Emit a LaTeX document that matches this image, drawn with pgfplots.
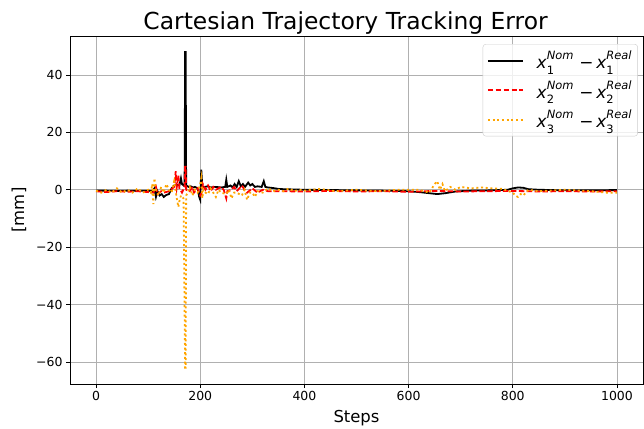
\documentclass[border=0pt]{standalone}
\usepackage{pgfplots}
\pgfplotsset{compat=1.18}
\usepackage{fontspec}
\setmainfont{DejaVu Sans}
\definecolor{mplorange}{HTML}{FFA500}
\newcommand{\supsub}[2]{\mbox{\rlap{\raisebox{-0.32em}{\fontsize{11.5}{12}\selectfont #2}}\raisebox{0.52em}{\fontsize{11.5}{12}\selectfont\itshape #1}}}
\newcommand{\xe}[1]{\textit{x}\supsub{Nom}{#1}\,\,−\,\textit{x}\supsub{Real}{#1}}
\begin{document}
\begin{tikzpicture}
\path[use as bounding box] (0,0) rectangle (644bp,429bp);
\begin{axis}[
  at={(70bp,45bp)}, anchor=south west,
  width=573bp, height=348bp, scale only axis,
  xmin=-50, xmax=1050, ymin=-67.7, ymax=53.6,
  xtick={0,200,400,600,800,1000},
  ytick={-60,-40,-20,0,20,40},
  yticklabels={−60,−40,−20,0,20,40},
  xticklabels={0,200,400,600,800,1000},
  tick align=outside, xtick pos=left, ytick pos=left,
  major tick length=4bp,
  tick style={black, line width=0.8bp},
  tick label style={font=\fontsize{12.5}{14}\selectfont},
  grid=major, grid style={color=black!31, line width=0.8bp},
  axis line style={line width=0.8bp},
  title={Cartesian Trajectory Tracking Error},
  title style={font=\fontsize{23.5}{27}\selectfont, at={(0.481,1)}, anchor=base, yshift=1bp},
  xlabel={Steps}, ylabel={[mm]},
  label style={font=\fontsize{16.5}{19}\selectfont},
  xlabel style={yshift=-3bp},
  ylabel style={yshift=3bp},
  legend cell align=left,
  legend style={at={(0.991,0.977)}, anchor=north east, draw=black!20, rounded corners=3bp,
    fill=white, fill opacity=0.8, text opacity=1, draw opacity=1, font=\fontsize{17}{19}\selectfont,
    row sep=6.5bp, column sep=11bp, inner xsep=4bp, inner ysep=5bp},
  legend image code/.code={\draw[line width=1.8bp, draw opacity=1, #1] (0bp,0bp) -- (35bp,0bp);},
  every axis plot/.append style={line width=1.8bp},
]
\addplot[black, solid] table {
0 -0.3
20 -0.3
40 -0.4
60 -0.3
80 -0.4
100 -0.3
108 -0.5
112 0.5
115 -2.5
118 -0.5
122 -2
126 -1.5
130 -2.5
135 -1.8
140 -1.5
145 0.5
150 1.5
155 1.8
160 1.5
163 4
165 2
168 1.5
170 2
171 48
172 48
173 1.5
178 1
182 1.2
186 0.8
190 1
195 0.5
198 -2.5
200 -3.5
202 7
204 1
208 1
215 1.2
220 0.8
230 1
240 0.8
248 1
250 3.5
252 1
258 1.5
262 0.8
266 2
270 1
274 3
278 1.2
282 2
286 1
292 2.5
296 1.5
300 2
305 1
310 1.2
318 1
322 3
325 1
330 0.8
340 0.6
350 0.3
360 0.2
380 0.1
400 0
450 -0.1
500 -0.2
550 -0.3
600 -0.5
620 -0.8
640 -1.2
655 -1.5
670 -1.2
690 -0.6
720 -0.3
760 -0.2
790 0
800 0.5
810 0.8
820 0.7
830 0.2
850 0
900 -0.2
950 -0.2
1000 -0.1
};
\addlegendentry{\xe{1}}
\addplot[red, dash pattern=on 5.5bp off 2.4bp] table {
0 -0.5
20 -0.8
40 -0.5
60 -0.7
80 -0.5
100 -0.8
110 -1
115 1
118 -1.5
125 -0.5
130 -1
140 -0.5
150 1
153 6.5
155 1
158 5
160 0.5
165 -1
170 1
171 8
172 8
173 0
180 -0.5
185 1
188 -1
195 0.5
200 -2
203 -1
205 2
210 0
215 1.5
220 -0.5
225 1
230 0
240 1
245 0
250 -3
252 -0.5
260 0
265 1
270 -0.5
280 1.5
285 0
290 -1
300 0.5
310 -1
320 0
330 -0.5
350 -0.5
400 -0.6
450 -0.4
500 -0.6
550 -0.5
600 -0.7
650 -0.4
700 -0.6
750 -0.5
800 -0.4
850 -0.6
900 -0.5
950 -0.6
1000 -0.5
};
\addlegendentry{\xe{2}}
\addplot[mplorange, dash pattern=on 2bp off 2.7bp] table {
0 -0.3
10 -1
20 0
30 -1
40 0.5
50 -1
60 0
70 -1
80 0.5
90 -1
100 0
105 -1
108 2
110 -5
112 4
115 0
120 -2
125 1
130 -1
135 2
140 0
145 -1
150 3
155 -3
158 -6
160 -4
163 -2
168 -3
171 -62
172 -62
173 -2
176 -1
180 1
185 -2
190 0
195 -1
200 2
202 4
204 -3
206 0
210 -1
215 -1.5
220 0.5
225 -1
230 -2.5
235 0
240 -1
250 -1.5
255 0
260 -3
265 -1
270 -1
280 -2
285 0
290 -3.5
295 -1
300 -1
305 -2.5
310 -0.5
320 -1
330 0.5
340 -0.5
350 0
360 -0.5
370 0.5
380 -0.5
390 0
400 -0.3
430 0.3
460 -0.5
500 0
540 -0.5
580 0
620 0
640 -1
650 2
655 3
660 0
665 2
670 -0.5
680 1
690 0
700 1
720 0.5
740 0.8
760 0.5
780 0.3
800 -1
805 -2
810 -2.5
815 -1.5
820 -2
830 0
850 -0.5
900 0
950 -0.5
980 -1
1000 -1
};
\addlegendentry{\xe{3}}
\end{axis}
\end{tikzpicture}
\end{document}
